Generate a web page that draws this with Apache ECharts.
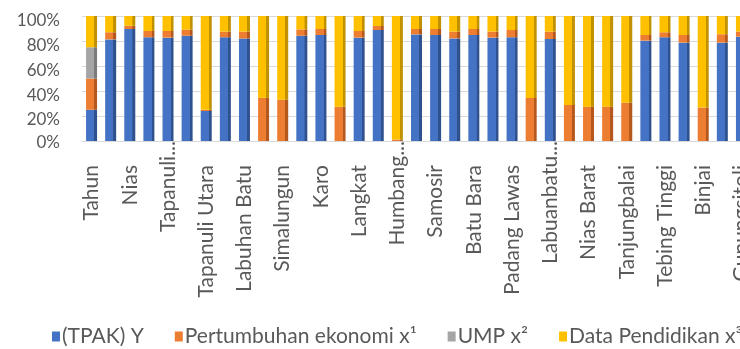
<!DOCTYPE html>
<html>
<head>
<meta charset="utf-8">
<script src="https://cdn.jsdelivr.net/npm/echarts@6/dist/echarts.min.js"></script>
<style>
  html, body { margin: 0; padding: 0; background: #fff; overflow: hidden; width: 740px; height: 349px; }
  #chart { width: 780px; height: 349px; }
</style>
</head>
<body>
<div id="chart"></div>
<script>
// Kabupaten/kota in Sumatera Utara, first row holds the year header
const categories = [
  'Tahun', 'Sumatera Utara', 'Nias', 'Mandailing Natal', 'Tapanuli Selatan',
  'Tapanuli Tengah', 'Tapanuli Utara', 'Toba Samosir', 'Labuhan Batu', 'Asahan',
  'Simalungun', 'Dairi', 'Karo', 'Deli Serdang', 'Langkat',
  'Nias Selatan', 'Humbang Hasundutan', 'Pakpak Bharat', 'Samosir', 'Serdang Bedagai',
  'Batu Bara', 'Padang Lawas Utara', 'Padang Lawas', 'Labuhanbatu Selatan', 'Labuanbatu Utara',
  'Nias Utara', 'Nias Barat', 'Sibolga', 'Tanjungbalai', 'Pematangsiantar',
  'Tebing Tinggi', 'Medan', 'Binjai', 'Padangsidimpuan', 'Gunungsitoli'
];

// Share of each variable in the 100% stacked column (percent)
const tpak = [
  25, 81.3, 89.6, 83, 82.7,
  84.2, 24, 83, 82, 0,
  0, 84.2, 84.8, 0, 82.7,
  88.8, 0, 85.3, 84.8, 82.1,
  84.8, 82.7, 83, 0, 81.6,
  0, 0, 0, 0, 80.3,
  83, 78.7, 0, 78.7, 83.5
];
const pertumbuhan = [
  25, 5.7, 2.6, 5, 5.3,
  4.8, 1, 4.5, 5.5, 34.5,
  33, 5.1, 4.8, 27.4, 5.3,
  3.2, 1.2, 4.3, 4.8, 5.4,
  4.8, 4.8, 5.8, 34.4, 5.9,
  28.8, 27.5, 27.5, 30.6, 4.5,
  4, 6.1, 26.8, 6.7, 4
];
const ump = [
  25, 0, 0, 0, 0,
  0, 0, 0, 0, 0,
  0, 0, 0, 0, 0,
  0, 0, 0, 0, 0,
  0, 0, 0, 0, 0,
  0, 0, 0, 0, 0,
  0, 0, 0, 0, 0
];
const pendidikan = [
  25, 13, 7.8, 12, 12,
  11, 75, 12.5, 12.5, 65.5,
  67, 10.7, 10.4, 72.6, 12,
  8, 98.8, 10.4, 10.4, 12.5,
  10.4, 12.5, 11.2, 65.6, 12.5,
  71.2, 72.5, 72.5, 69.4, 15.2,
  13, 15.2, 73.2, 14.6, 12.5
];
const yTicks = [0, 20, 40, 60, 80, 100];

const seriesDefs = [
  { name: '(TPAK) Y', data: tpak, color: '#4472C4', side: '#2F528F' },
  { name: 'Pertumbuhan ekonomi x\u00B9', data: pertumbuhan, color: '#ED7D31', side: '#B4581E' },
  { name: 'UMP x\u00B2', data: ump, color: '#A5A5A5', side: '#7B7B7B' },
  { name: 'Data Pendidikan x\u00B3', data: pendidikan, color: '#FFC000', side: '#C09100' }
];

const FONT = 'Lato';
const TEXT = '#595959';

// Column with a darker right strip to give the 3D side face
function shaded(c, side) {
  return new echarts.graphic.LinearGradient(0, 0, 1, 0, [
    { offset: 0, color: c },
    { offset: 0.74, color: c },
    { offset: 0.75, color: side },
    { offset: 1, color: side }
  ]);
}

// Long names are cut after the first word, as the axis shows them
function shortName(name) {
  if (name.length > 14) return '{t|' + name.split(' ')[0] + '...}';
  return '{n|' + name + '}';
}

// Value labels sit on the front edge of the floor, a little below each wall gridline
const yLabelDrop = { 0: 2, 20: 4, 40: 5, 60: 5, 80: 5, 100: 5 };
const yRich = {};
yTicks.forEach(v => {
  yRich['y' + v] = {
    fontFamily: FONT, fontSize: 17, color: TEXT,
    padding: [yLabelDrop[v] * 2, 0, 0, 0]
  };
});

const chart = echarts.init(document.getElementById('chart'), null, { renderer: 'canvas' });
chart.setOption({
  animation: false,
  backgroundColor: '#ffffff',
  grid: { left: 82, width: 669, top: 16, height: 125, containLabel: false },
  legend: {
    left: 47,
    top: 321,
    width: 900,
    itemGap: 31,
    itemWidth: 8,
    itemHeight: 10,
    icon: 'rect',
    textStyle: { fontFamily: FONT, fontSize: 21, color: TEXT, padding: [0, 0, 0, -3] },
    data: seriesDefs.map(s => ({ name: s.name, itemStyle: { color: s.color } }))
  },
  xAxis: {
    type: 'category',
    data: categories,
    boundaryGap: true,
    axisLine: { show: true, lineStyle: { color: '#D9D9D9', width: 1 } },
    axisTick: { show: false },
    axisLabel: {
      interval: 1,
      rotate: 90,
      margin: 0,
      color: TEXT,
      fontFamily: FONT,
      fontSize: 21,
      formatter: shortName,
      rich: {
        n: { fontFamily: FONT, fontSize: 21, color: TEXT, padding: [0, 24, 0, 0] },
        t: { fontFamily: FONT, fontSize: 21, color: TEXT, padding: [0, 0, 0, 0] }
      }
    }
  },
  yAxis: {
    type: 'value',
    min: yTicks[0],
    max: yTicks[yTicks.length - 1],
    interval: 20,
    axisLine: { show: false },
    axisTick: { show: false },
    splitLine: { lineStyle: { color: '#D9D9D9', width: 1 } },
    axisLabel: {
      margin: 22,
      color: TEXT,
      fontFamily: FONT,
      fontSize: 17,
      formatter: v => '{y' + v + '|' + v + '%}',
      rich: yRich
    }
  },
  series: seriesDefs.map(s => ({
    name: s.name,
    type: 'bar',
    stack: 'total',
    barWidth: 11,
    data: s.data,
    itemStyle: { color: shaded(s.color, s.side) }
  }))
});
</script>
</body>
</html>
